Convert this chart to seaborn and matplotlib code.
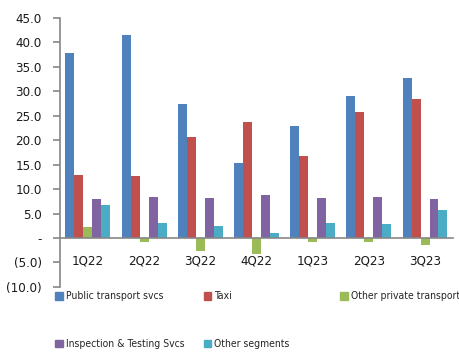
import matplotlib
matplotlib.use("Agg")
import matplotlib.pyplot as plt
import seaborn as sns
import pandas as pd
import numpy as np

quarters = ["1Q22", "2Q22", "3Q22", "4Q22", "1Q23", "2Q23", "3Q23"]
public_transport = [37.8, 41.6, 27.4, 15.4, 23.0, 29.0, 32.8]
taxi = [12.9, 12.7, 20.7, 23.7, 16.8, 25.8, 28.4]
other_private = [2.2, -0.8, -2.6, -3.3, -0.8, -0.8, -1.4]
inspection = [8.0, 8.4, 8.2, 8.8, 8.2, 8.4, 8.0]
other_segments = [6.8, 3.0, 2.5, 1.0, 3.0, 2.9, 5.7]

series_names = ["Public transport svcs", "Taxi", "Other private transport",
                "Inspection & Testing Svcs", "Other segments"]
colors = ["#4F81BD", "#C0504D", "#9BBB59", "#8064A2", "#4BACC6"]

series = [public_transport, taxi, other_private, inspection, other_segments]
rows = []
for name, vals in zip(series_names, series):
    for q, v in zip(quarters, vals):
        rows.append({"quarter": q, "segment": name, "value": v})
df = pd.DataFrame(rows)

sns.set_style("white")
plt.rcParams['font.family'] = ['DejaVu Sans']
plt.rcParams['font.stretch'] = 'condensed'

fig = plt.figure(figsize=(4.6, 3.52), dpi=100)
ax = fig.add_axes([0.13, 0.185, 0.855, 0.764])

sns.barplot(data=df, x="quarter", y="value", hue="segment", hue_order=series_names,
            palette=colors, saturation=1, width=0.8, ax=ax, legend=False,
            linewidth=0, edgecolor='none')

ax.set_ylim(-10, 45)
ax.set_xlim(-0.5, 6.5)
yt = np.arange(-10, 46, 5)
ax.set_yticks(yt)
labels = []
for v in yt:
    if v == 0:
        labels.append("-")
    elif v < 0:
        labels.append("({:.1f})".format(-v))
    else:
        labels.append("{:.1f}".format(v))
ax.set_yticklabels(labels, fontsize=9.5, color='#1a1a1a')
ax.set_xlabel("")
ax.set_ylabel("")

# x axis sits on the zero line, ticks between groups, labels under zero
ax.spines['bottom'].set_position(('data', 0))
ax.spines['top'].set_visible(False)
ax.spines['right'].set_visible(False)
for s in ['bottom', 'left']:
    ax.spines[s].set_color('#868686')
    ax.spines[s].set_linewidth(1.2)
ax.set_xticks(np.arange(-0.5, 7, 1))
ax.set_xticklabels([])
ax.set_xticks(np.arange(7), minor=True)
ax.set_xticklabels(quarters, minor=True, fontsize=9.5, color='#1a1a1a')
ax.tick_params(axis='x', which='major', direction='out', length=4, color='#868686', width=1.2)
ax.tick_params(axis='x', which='minor', length=0, pad=12)
ax.tick_params(axis='y', direction='out', length=5, color='#868686', width=1.2, left=True, pad=8)

handles = [plt.Rectangle((0, 0), 1, 1, color=c) for c in colors]
fig.legend([handles[0], handles[3], handles[1], handles[4]],
           [series_names[0], series_names[3], series_names[1], series_names[4]],
           ncol=2, loc='upper left', bbox_to_anchor=(0.12, 0.172), frameon=False,
           fontsize=7.5, handlelength=0.75, handleheight=0.75, handletextpad=0.3,
           labelspacing=3.6, columnspacing=1.8, borderaxespad=0, borderpad=0)
fig.legend([handles[2]], [series_names[2]], loc='upper left',
           bbox_to_anchor=(0.74, 0.172), frameon=False, fontsize=7.5,
           handlelength=0.75, handleheight=0.75, handletextpad=0.3,
           borderaxespad=0, borderpad=0)

fig.savefig("out.png", dpi=100)
